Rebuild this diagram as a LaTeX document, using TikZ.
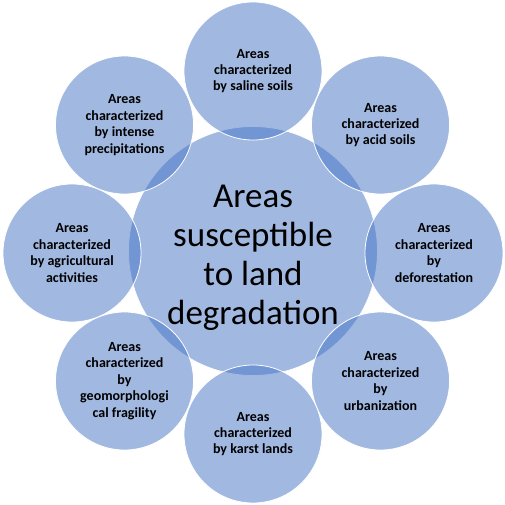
\documentclass[tikz,border=0pt]{standalone}
\usepackage{fontspec}
\setmainfont{Carlito}
\definecolor{cblue}{HTML}{4472C4}
\begin{document}
\begin{tikzpicture}[x=1pt,y=-1pt,
  bubble/.style={circle, fill=cblue, fill opacity=0.5, text opacity=1, draw=white, line width=0.8pt, inner sep=0pt, align=center, text=black},
  outer/.style={bubble, minimum size=138pt, font=\fontsize{14}{16.4}\selectfont\bfseries},
  hub/.style={bubble, minimum size=249pt, font=\fontsize{35}{39}\selectfont}]
\useasboundingbox (0,0) rectangle (505,504);
\node[hub] (c) at (253,251) {\rule{0pt}{36pt}Areas\\susceptible\\to land\\degradation};
\node[outer] (o1) at (253,71) {Areas\\characterized\\by saline soils};
\node[outer] (o2) at (380.5,125) {Areas\\characterized\\by acid soils};
\node[outer] (o3) at (434,253) {Areas\\characterized\\by\\deforestation};
\node[outer] (o4) at (380.5,381) {Areas\\characterized\\by\\urbanization};
\node[outer] (o5) at (253,434) {Areas\\characterized\\by karst lands};
\node[outer] (o6) at (124.5,381) {Areas\\characterized\\by\\geomorphologi\\cal fragility};
\node[outer] (o7) at (72,253) {Areas\\characterized\\by agricultural\\activities};
\node[outer] (o8) at (124.5,125) {Areas\\characterized\\by intense\\precipitations};
\end{tikzpicture}
\end{document}
